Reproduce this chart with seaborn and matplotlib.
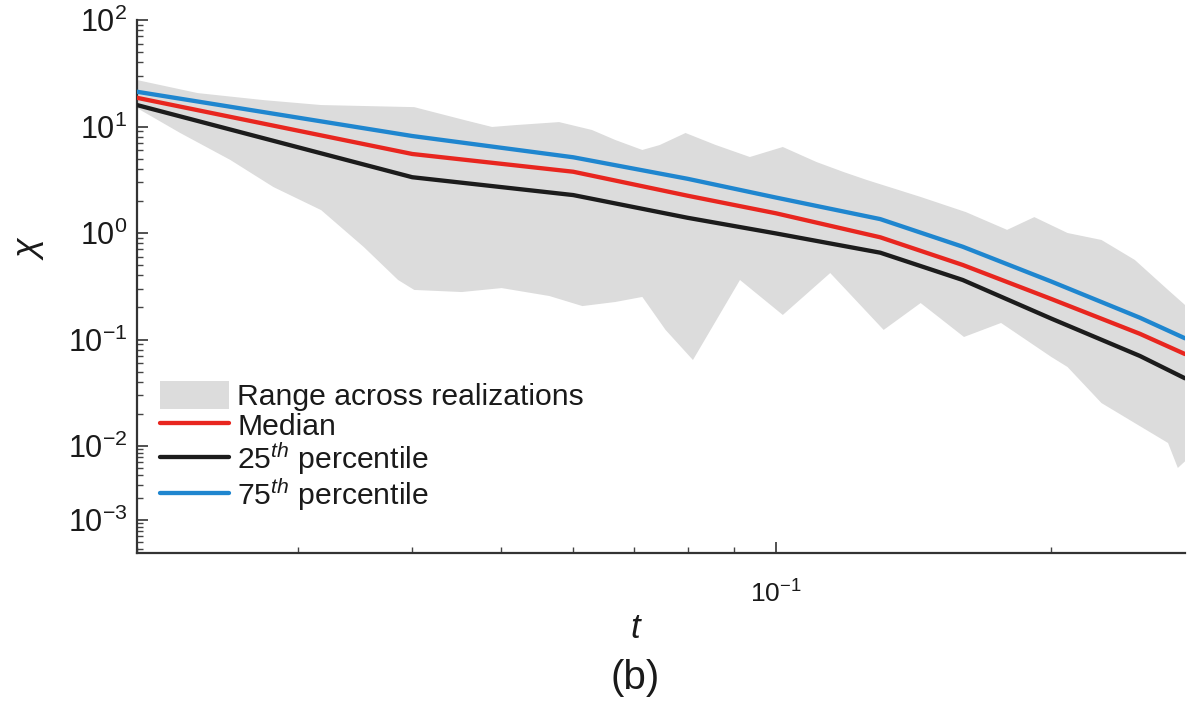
import numpy as np
import pandas as pd
import matplotlib
matplotlib.use("Agg")
import matplotlib.pyplot as plt
from matplotlib import ticker
from matplotlib.patches import Patch
from matplotlib.lines import Line2D
import seaborn as sns

# Percentile curves of chi over time
t = [0.02, 0.04, 0.06, 0.08, 0.10, 0.13, 0.16, 0.20, 0.25, 0.28]
chi_median = [18.6, 5.52, 3.76, 2.24, 1.53, 0.911, 0.501, 0.240, 0.113, 0.073]
chi_p25 = [15.9, 3.34, 2.27, 1.39, 0.99, 0.653, 0.362, 0.157, 0.070, 0.0432]
chi_p75 = [21.2, 8.14, 5.14, 3.23, 2.15, 1.35, 0.743, 0.350, 0.160, 0.1026]

# Envelope (min / max) across all realizations
t_upper = [0.0200, 0.0233, 0.0275, 0.0318, 0.0402, 0.0456, 0.0489, 0.0518,
           0.0579, 0.0629, 0.0667, 0.0714, 0.0746, 0.0796, 0.0859, 0.0936,
           0.1017, 0.1107, 0.1185, 0.1256, 0.1439, 0.1613, 0.1789, 0.1916,
           0.2083, 0.2269, 0.2468, 0.2683, 0.2800]
chi_upper = [27.3, 20.6, 17.7, 15.9, 15.2, 11.5, 9.9, 10.3,
             11.0, 9.27, 7.47, 6.02, 6.70, 8.69, 6.70, 5.17,
             6.42, 4.64, 3.74, 3.15, 2.18, 1.57, 1.07, 1.41,
             1.00, 0.86, 0.558, 0.292, 0.211]

t_lower = [0.0200, 0.0223, 0.0253, 0.0282, 0.0318, 0.0354, 0.0386, 0.0402,
           0.0453, 0.0501, 0.0565, 0.0614, 0.0667, 0.0714, 0.0757, 0.0811,
           0.0913, 0.1017, 0.1146, 0.1311, 0.1439, 0.1605, 0.1762, 0.2000,
           0.2083, 0.2269, 0.2468, 0.2683, 0.2750, 0.2800]
chi_lower = [14.9, 8.69, 4.85, 2.70, 1.64, 0.739, 0.362, 0.292,
             0.279, 0.304, 0.256, 0.206, 0.225, 0.251, 0.123, 0.0642,
             0.362, 0.170, 0.421, 0.123, 0.220, 0.1056, 0.143, 0.0685,
             0.0552, 0.0253, 0.0164, 0.01067, 0.00505, 0.0062]

series_names = ["Median", "25th", "75th"]
series_colors = {"Median": "#e8261f", "25th": "#1c1c1c", "75th": "#1f86cf"}
band_color = "#dcdcdc"

sns.set_theme(style="ticks")
plt.rcParams["font.family"] = ["Liberation Sans", "DejaVu Sans"]
plt.rcParams["mathtext.fontset"] = "custom"
plt.rcParams["mathtext.rm"] = "Liberation Sans"
plt.rcParams["mathtext.it"] = "Liberation Sans:italic"
plt.rcParams["axes.unicode_minus"] = False

df = pd.DataFrame({
    "t": t * 3,
    "chi": chi_median + chi_p25 + chi_p75,
    "stat": sum([[n] * len(t) for n in series_names], []),
})

W, H = 1202, 711
fig = plt.figure(figsize=(W / 100, H / 100), dpi=100)
ax = fig.add_axes([137 / W, 1 - 553 / H, 1048 / W, 533 / H])

# shaded range across realizations
poly_t = np.concatenate([t_upper, t_lower[::-1]])
poly_c = np.concatenate([chi_upper, chi_lower[::-1]])
ax.fill(poly_t, poly_c, color=band_color, lw=0, zorder=1)

sns.lineplot(data=df, x="t", y="chi", hue="stat", hue_order=series_names,
             palette=series_colors, estimator=None, sort=False,
             linewidth=3.1, legend=False, ax=ax, zorder=3)

# log axis, compressed below 1e-2
k = 74 / 106.5


def fwd(y):
    ly = np.log10(np.clip(np.asarray(y, dtype=float), 1e-12, None))
    return np.where(ly >= -2, ly, -2 + (ly + 2) * k)


def inv(u):
    u = np.asarray(u, dtype=float)
    return np.where(u >= -2, 10.0 ** u, 10.0 ** (-2 + (u + 2) / k))


ax.set_xscale("log")
ax.set_yscale("function", functions=(fwd, inv))
ax.set_xlim(0.02, 0.28)
ax.set_ylim(float(inv(2 - 533 / 106.5)), 100)


def pow_fmt(v, pos):
    e = int(round(np.log10(v)))
    return r"$\mathdefault{10^{%d}}$" % e


for axis in (ax.xaxis, ax.yaxis):
    axis.set_major_locator(ticker.LogLocator(base=10, numticks=12))
    axis.set_minor_locator(ticker.LogLocator(base=10, subs=np.arange(2, 10), numticks=40))
    axis.set_major_formatter(ticker.FuncFormatter(pow_fmt))
    axis.set_minor_formatter(ticker.NullFormatter())

ax.tick_params(axis="both", which="major", direction="in", length=8, width=1.2,
               color="#333333")
ax.tick_params(axis="both", which="minor", direction="in", length=4.5, width=1.0,
               color="#444444")
ax.tick_params(axis="y", which="major", labelsize=22, pad=7, labelcolor="#1a1a1a")
ax.tick_params(axis="x", which="major", labelsize=19, pad=20, labelcolor="#1a1a1a")

for side in ("top", "right"):
    ax.spines[side].set_visible(False)
for side in ("left", "bottom"):
    ax.spines[side].set_linewidth(1.6)
    ax.spines[side].set_color("#333333")
ax.set_xlabel("")
ax.set_ylabel("")
ax.set_facecolor("white")

handles = [Patch(facecolor=band_color, edgecolor="none")] + [
    Line2D([], [], color=series_colors[n], lw=3.1) for n in series_names
]
labels = ["Range across realizations", "Median",
          r"$\mathit{25}^{\mathit{th}}$ percentile",
          r"$\mathit{75}^{\mathit{th}}$ percentile"]
ax.legend(handles, labels, loc="upper left",
          bbox_to_anchor=(160 / W, 1 - 381 / H), bbox_transform=fig.transFigure,
          frameon=False, borderpad=0, borderaxespad=0, fontsize=21.7,
          handlelength=2.3, handleheight=1.05, handletextpad=0.27,
          labelspacing=-0.02, labelcolor="#1a1a1a")

fig.text(30 / W, 1 - 250 / H, "χ", fontsize=26, style="italic",
         rotation=90, ha="center", va="center", color="#1a1a1a")
fig.text(635 / W, 1 - 628 / H, "t", fontsize=25, style="italic",
         ha="center", va="center", color="#1a1a1a")
fig.text(635 / W, 1 - 678 / H, "(b)", fontsize=29,
         ha="center", va="center", color="#1a1a1a")

fig.savefig("out.png", dpi=100, facecolor="white")
